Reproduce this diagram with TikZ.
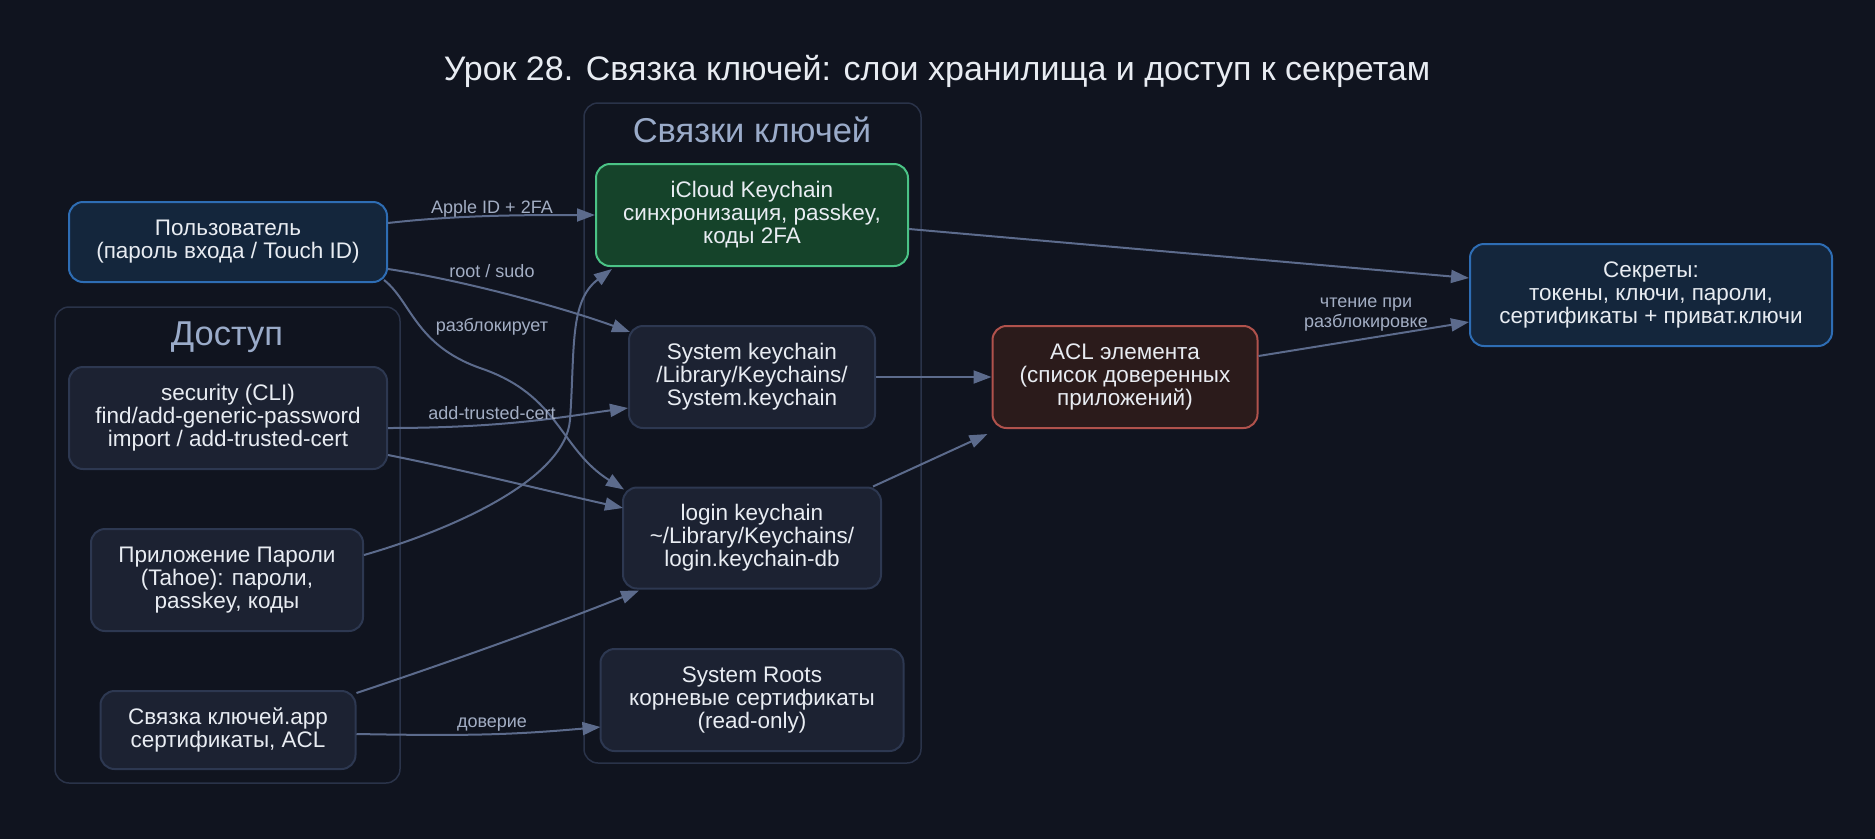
\documentclass[tikz,border=0pt]{standalone}
\usepackage{fontspec}
\setmainfont{Liberation Sans}
\usetikzlibrary{arrows.meta,calc}
\usepackage{xcolor}
\definecolor{bgcol}{HTML}{10141F}
\definecolor{nodefill}{HTML}{1C2232}
\definecolor{nodeline}{HTML}{2D3851}
\definecolor{bluefill}{HTML}{14263C}
\definecolor{blueline}{HTML}{2E6DB4}
\definecolor{greenfill}{HTML}{15432A}
\definecolor{greenline}{HTML}{4BC386}
\definecolor{redfill}{HTML}{2B1B1B}
\definecolor{redline}{HTML}{B0524C}
\definecolor{edgecol}{HTML}{5C6B8C}
\definecolor{labelcol}{HTML}{A3AEC4}
\definecolor{ctitlecol}{HTML}{9AABC9}
\definecolor{clusterline}{HTML}{2A3349}
\definecolor{nodetext}{HTML}{E8ECF2}

\begin{document}
\begin{tikzpicture}[x=1pt,y=-1pt,
    kbox/.style={draw=nodeline, fill=nodefill, rounded corners=14pt, line width=2pt, align=center,
      text=nodetext, font=\fontsize{22.5}{23}\selectfont, inner sep=0pt},
    userbox/.style={kbox, draw=blueline, fill=bluefill},
    syncbox/.style={kbox, draw=greenline, fill=greenfill},
    aclbox/.style={kbox, draw=redline, fill=redfill},
    link/.style={draw=edgecol, line width=2pt, -{Triangle[length=18pt,width=13pt]}},
    elabel/.style={text=labelcol, font=\fontsize{18}{20}\selectfont, anchor=base, align=center},
    cluster/.style={draw=clusterline, line width=1.5pt, rounded corners=14pt},
    ctitle/.style={text=ctitlecol, font=\fontsize{34.5}{34.5}\selectfont, anchor=base}]
  \fill[bgcol] (0,0) rectangle (1875,839);
  \useasboundingbox (0,0) rectangle (1875,839);

  \node[text=nodetext, font=\fontsize{34}{34}\selectfont, anchor=base] (title) at (937,80)
    {Урок 28. Связка ключей: слои хранилища и доступ к секретам};

  % clusters
  \draw[cluster] (584,103) rectangle (921,763);
  \node[ctitle] (kctitle) at (752,142) {Связки ключей};
  \draw[cluster] (55,307) rectangle (400,783);
  \node[ctitle] (actitle) at (227,345) {Доступ};

  % nodes
  \node[userbox, minimum width=318pt, minimum height=80pt] (user) at (228,242)
    {Пользователь\\(пароль входа / Touch ID)};
  \node[kbox, minimum width=318pt, minimum height=102pt] (security) at (228,418)
    {security (CLI)\\find/add-generic-password\\import / add-trusted-cert};
  \node[kbox, minimum width=272pt, minimum height=102pt] (passapp) at (227,580)
    {Приложение Пароли\\(Tahoe): пароли,\\passkey, коды};
  \node[kbox, minimum width=255pt, minimum height=78pt] (kcapp) at (228,730)
    {Связка ключей.app\\сертификаты, ACL};

  \node[syncbox, minimum width=312pt, minimum height=102pt] (icloud) at (752,215)
    {iCloud Keychain\\синхронизация, passkey,\\коды 2FA};
  \node[kbox, minimum width=246pt, minimum height=102pt] (syskc) at (752,377)
    {System keychain\\/Library/Keychains/\\System.keychain};
  \node[kbox, minimum width=258pt, minimum height=101pt] (loginkc) at (752,538)
    {login keychain\\\textasciitilde/Library/Keychains/\\login.keychain-db};
  \node[kbox, minimum width=303pt, minimum height=102pt] (roots) at (752,700)
    {System Roots\\корневые сертификаты\\(read-only)};

  \node[aclbox, minimum width=265pt, minimum height=102pt] (acl) at (1125,377)
    {ACL элемента\\(список доверенных\\приложений)};
  \node[userbox, minimum width=362pt, minimum height=102pt] (secrets) at (1651,295)
    {Секреты:\\токены, ключи, пароли,\\сертификаты + приват.ключи};

  % edges
  \draw[link] ($(user.east)+(0,-19)$) .. controls +(70,-8) and +(-70,0) .. (icloud.west);
  \draw[link] ($(user.east)+(0,27)$) .. controls +(80,12) and +(-60,-22) .. ($(syskc.north west)+(2,7)$);
  \draw[link] ($(user.south east)+(-4,-3)$) .. controls +(27,21) and +(-65,-23) .. (480,368)
    .. controls +(80,27) and +(-65,-41) .. ($(loginkc.north west)+(2,3)$);
  \draw[link] ($(security.east)+(0,10)$) .. controls +(120,0) and +(-60,8) .. ($(syskc.west)+(0,31)$);
  \draw[link] ($(security.east)+(0,37)$) .. controls +(80,16) and +(-80,-18) .. ($(loginkc.west)+(1,-30)$);
  \draw[link] ($(passapp.east)+(0,-25)$) .. controls +(87,-25) and +(-5,60) .. (570,420)
    .. controls +(5,-70) and +(-43,32) .. ($(icloud.south west)+(17,2)$);
  \draw[link] ($(kcapp.east)+(0,-37)$) .. controls +(90,-30) and +(-90,36) .. ($(loginkc.south west)+(17,1)$);
  \draw[link] ($(kcapp.east)+(0,4)$) .. controls +(110,2) and +(-90,8) .. ($(roots.west)+(1,27)$);
  \draw[link] ($(icloud.east)+(0,14)$) -- ($(secrets.west)+(0,-17)$);
  \draw[link] (syskc.east) -- (acl.west);
  \draw[link] ($(loginkc.north east)+(-9,0)$) -- ($(acl.south west)+(-4,5)$);
  \draw[link] ($(acl.east)+(0,-21)$) -- ($(secrets.west)+(0,27)$);

  % edge labels
  \node[elabel] (lapple) at (492,213) {Apple ID + 2FA};
  \node[elabel] (lroot) at (492,277) {root / sudo};
  \node[elabel] (lunlock) at (492,331) {разблокирует};
  \node[elabel] (ltrust) at (492,419) {add-trusted-cert};
  \node[elabel] (lrely) at (492,727) {доверие};
  \node[elabel] (lread) at (1366,327) {чтение при\\разблокировке};
\end{tikzpicture}
\end{document}
